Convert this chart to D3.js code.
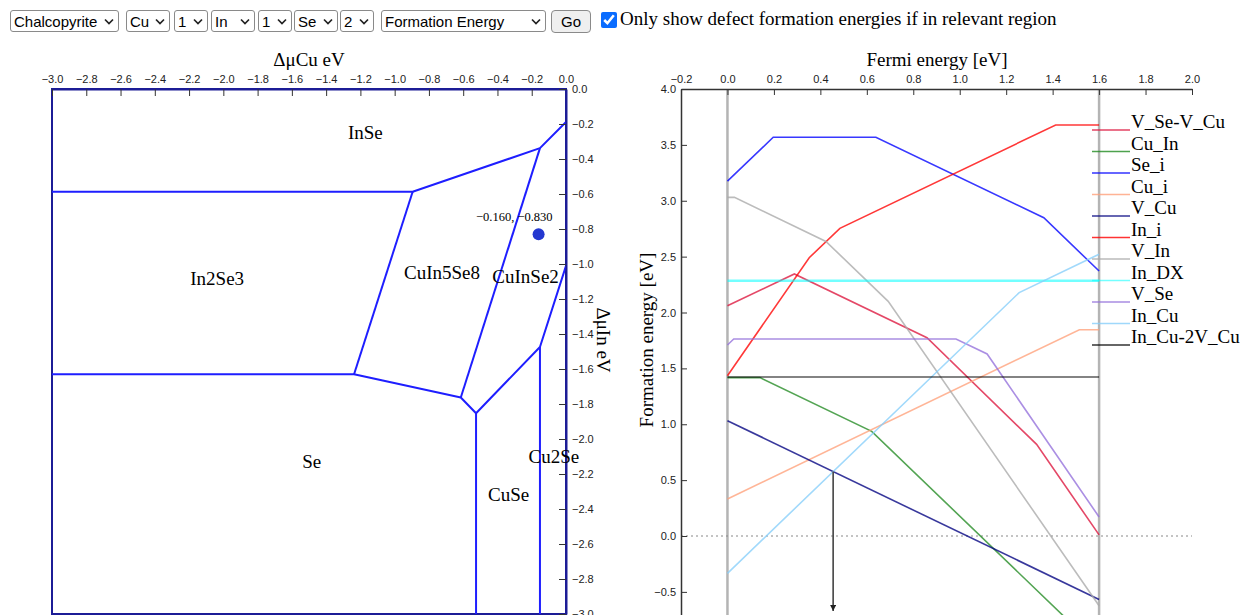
<!DOCTYPE html>
<html>
<head>
<meta charset="utf-8">
<script src="https://cdn.jsdelivr.net/npm/d3@7"></script>
<style>
  html, body { margin: 0; padding: 0; background: #fff; }
  body { width: 1241px; height: 615px; position: relative; overflow: hidden; }
  #chart { position: absolute; left: 0; top: 0; }
  .ctl { position: absolute; top: 10px; height: 22px; box-sizing: border-box;
         font: 15px Arial, "Liberation Sans", sans-serif; color: #000;
         border: 1px solid #8a8a8a; border-radius: 3px; background-color: #fff;
         -webkit-appearance: none; appearance: none; padding: 0 14px 0 3px;
         background-repeat: no-repeat; background-position: right 4px center; margin: 0; }
  #go { position: absolute; top: 10px; left: 551px; width: 40px; height: 23px; box-sizing: border-box;
        font: 15px Arial, "Liberation Sans", sans-serif; border: 1px solid #8a8a8a; border-radius: 4px;
        background: #efefef; padding: 0; margin: 0; }
  #only { position: absolute; left: 601px; top: 12px; width: 16px; height: 16px; margin: 0; accent-color: #0a6cff; }
  #onlyLabel { position: absolute; left: 620px; top: 8px; font: 19px "Liberation Serif", "Times New Roman", serif; white-space: nowrap; }
  .tick text { font-family: Arial, "Liberation Sans", sans-serif; }
</style>
</head>
<body>
<svg id="chart" width="1241" height="615"></svg>
<select class="ctl" style="left:10px;width:109px"><option>Chalcopyrite</option></select>
<select class="ctl" style="left:126px;width:44px"><option>Cu</option></select>
<select class="ctl" style="left:174px;width:34px"><option>1</option></select>
<select class="ctl" style="left:211px;width:44px"><option>In</option></select>
<select class="ctl" style="left:258px;width:34px"><option>1</option></select>
<select class="ctl" style="left:294px;width:44px"><option>Se</option></select>
<select class="ctl" style="left:340px;width:34px"><option>2</option></select>
<select class="ctl" style="left:381px;width:165px"><option>Formation Energy</option></select>
<button id="go">Go</button>
<input type="checkbox" id="only" checked>
<label id="onlyLabel" for="only">Only show defect formation energies if in relevant region</label>
<script>
// chevrons for the drop-downs
const chevron = "url(\"data:image/svg+xml;utf8," + encodeURIComponent(
  "<svg xmlns='http://www.w3.org/2000/svg' width='10' height='7'><path d='M1 1.5l4 4 4-4' fill='none' stroke='#222' stroke-width='1.7'/></svg>") + "\")";
document.querySelectorAll("select.ctl").forEach(s => s.style.backgroundImage = chevron);

// ---------- chemical potential phase diagram (Cu-In-Se) ----------
const muCuTicks = [-3.0, -2.8, -2.6, -2.4, -2.2, -2.0, -1.8, -1.6, -1.4, -1.2, -1.0, -0.8, -0.6, -0.4, -0.2, 0.0];
const muInTicks = [0.0, -0.2, -0.4, -0.6, -0.8, -1.0, -1.2, -1.4, -1.6, -1.8, -2.0, -2.2, -2.4, -2.6, -2.8, -3.0];

// phase boundaries as [ΔμCu, ΔμIn] polylines
const phaseBoundaries = [
  [[-3.0, -0.587], [-0.895, -0.587], [-0.152, -0.338], [0.0, -0.189]],
  [[-3.0, -1.630], [-1.237, -1.630], [-0.614, -1.763], [-0.525, -1.853], [-0.152, -1.474], [0.0, -1.011]],
  [[-0.895, -0.587], [-1.237, -1.630]],
  [[-0.614, -1.763], [-0.152, -0.338]],
  [[-0.525, -1.853], [-0.525, -3.0]],
  [[-0.152, -1.474], [-0.152, -3.0]]
];

const phaseNames = ["InSe", "In2Se3", "CuIn5Se8", "CuInSe2", "Se", "CuSe", "Cu2Se"];
const phaseLabelPos = [[-1.171, -0.283], [-2.036, -1.120], [-0.724, -1.086], [-0.236, -1.107],
                       [-1.484, -2.166], [-0.335, -2.353], [-0.071, -2.139]];

const selectedPoint = [-0.160, -0.830];

// ---------- defect formation energies vs Fermi level ----------
const fermiTicks = [-0.2, 0.0, 0.2, 0.4, 0.6, 0.8, 1.0, 1.2, 1.4, 1.6, 1.8, 2.0];
const energyTicks = [4.0, 3.5, 3.0, 2.5, 2.0, 1.5, 1.0, 0.5, 0.0, -0.5];
const bandGap = [0.0, 1.6];

const defectNames = ["V_Se-V_Cu", "Cu_In", "Se_i", "Cu_i", "V_Cu", "In_i", "V_In", "In_DX", "V_Se", "In_Cu", "In_Cu-2V_Cu"];
const defectColors = ["crimson", "forestgreen", "blue", "lightsalmon", "navy", "red", "darkgray", "cyan", "mediumpurple", "lightskyblue", "black"];

// [Fermi energy, formation energy] breakpoints of each defect's lowest-energy charge state
const defectLines = [
  [[0.0, 2.060], [0.288, 2.345], [0.859, 1.774], [1.331, 0.820], [1.6, 0.010]],
  [[0.0, 1.417], [0.140, 1.417], [0.621, 0.936], [1.6, -1.022]],
  [[0.0, 3.175], [0.197, 3.568], [0.639, 3.568], [1.362, 2.848], [1.6, 2.371]],
  [[0.0, 0.331], [1.515, 1.846], [1.6, 1.846]],
  [[0.0, 1.032], [1.6, -0.568]],
  [[0.0, 1.434], [0.352, 2.490], [0.484, 2.753], [1.413, 3.678], [1.6, 3.678]],
  [[0.0, 3.030], [0.030, 3.030], [0.424, 2.636], [0.692, 2.100], [1.6, -0.624]],
  [[0.0, 2.285], [1.6, 2.285]],
  [[0.0, 1.709], [0.027, 1.763], [0.984, 1.763], [1.118, 1.629], [1.6, 0.170]],
  [[0.0, -0.334], [1.256, 2.178], [1.6, 2.522]],
  [[0.0, 1.423], [1.6, 1.423]]
];

// equilibrium Fermi level and the formation energy where it is pinned
const fermiLevel = [0.455, 0.577];

const svg = d3.select("#chart");
const serif = '"Liberation Serif", "Times New Roman", serif';

// ===== left panel =====
const xMu = d3.scaleLinear().domain([-3, 0]).range([52, 566]);
const yMu = d3.scaleLinear().domain([0, -3]).range([89, 614]);

const left = svg.append("g");
left.append("rect")
  .attr("x", xMu(-3)).attr("y", yMu(0))
  .attr("width", xMu(0) - xMu(-3)).attr("height", yMu(-3) - yMu(0))
  .attr("fill", "none").attr("stroke", "#1c1c96").attr("stroke-width", 2);

const lineMu = d3.line().x(d => xMu(d[0])).y(d => yMu(d[1]));
left.selectAll("path.boundary").data(phaseBoundaries).join("path")
  .attr("class", "boundary")
  .attr("d", lineMu)
  .attr("fill", "none").attr("stroke", "#1e1eff").attr("stroke-width", 2)
  .attr("stroke-linejoin", "round");

const axMuTop = left.append("g").attr("transform", `translate(0,${yMu(0)})`)
  .call(d3.axisTop(xMu).tickValues(muCuTicks).tickFormat(d3.format(".1f"))
        .tickSizeInner(-7).tickSizeOuter(0).tickPadding(6));
const axMuRight = left.append("g").attr("transform", `translate(${xMu(0)},0)`)
  .call(d3.axisRight(yMu).tickValues(muInTicks).tickFormat(d3.format(".1f"))
        .tickSizeInner(-7).tickSizeOuter(0).tickPadding(6));
[axMuTop, axMuRight].forEach(a => {
  a.select(".domain").attr("stroke", "#1c1c96").attr("stroke-width", 2);
  a.selectAll(".tick line").attr("stroke", "#333");
  a.selectAll(".tick text").attr("font-size", 11).attr("fill", "#222");
});

left.append("text").attr("x", 309).attr("y", 66)
  .attr("text-anchor", "middle").attr("font-family", serif).attr("font-size", 19)
  .text("ΔμCu eV");
left.append("text").attr("transform", "translate(597,340) rotate(90)")
  .attr("text-anchor", "middle").attr("font-family", serif).attr("font-size", 19)
  .text("ΔμIn eV");

left.selectAll("text.phase").data(phaseNames).join("text")
  .attr("class", "phase")
  .attr("x", (d, i) => xMu(phaseLabelPos[i][0]))
  .attr("y", (d, i) => yMu(phaseLabelPos[i][1]))
  .attr("text-anchor", "middle").attr("font-family", serif).attr("font-size", 19)
  .text(d => d);

left.append("circle")
  .attr("cx", xMu(selectedPoint[0])).attr("cy", yMu(selectedPoint[1])).attr("r", 6)
  .attr("fill", "#2438d0");
left.append("text")
  .attr("x", xMu(selectedPoint[0]) + 14).attr("y", yMu(selectedPoint[1]) - 13)
  .attr("text-anchor", "end").attr("font-family", serif).attr("font-size", 12.5)
  .text(selectedPoint.map(d3.format(".3f")).join(", "));

// ===== right panel =====
const xF = d3.scaleLinear().domain([-0.2, 2.0]).range([681, 1192]);
const yF = d3.scaleLinear().domain([-1, 4]).range([647.75, 89]);

const right = svg.append("g");

// band edges
right.selectAll("line.edge").data(bandGap).join("line")
  .attr("class", "edge")
  .attr("x1", d => xF(d)).attr("x2", d => xF(d))
  .attr("y1", yF(4)).attr("y2", 615)
  .attr("stroke", "#b4b4b4").attr("stroke-width", 2.5);

// zero reference
right.append("line")
  .attr("x1", xF(-0.2)).attr("x2", xF(2.0)).attr("y1", yF(0)).attr("y2", yF(0))
  .attr("stroke", "#888").attr("stroke-width", 1).attr("stroke-dasharray", "2,3");

const clip = svg.append("defs").append("clipPath").attr("id", "plotClip");
clip.append("rect").attr("x", xF(-0.2)).attr("y", yF(4)).attr("width", xF(2) - xF(-0.2)).attr("height", yF(-1) - yF(4));

const lineF = d3.line().x(d => xF(d[0])).y(d => yF(d[1]));
right.append("g").attr("clip-path", "url(#plotClip)")
  .selectAll("path.defect").data(defectLines).join("path")
  .attr("class", "defect")
  .attr("d", lineF)
  .attr("fill", "none")
  .attr("stroke", (d, i) => defectColors[i])
  .attr("stroke-opacity", (d, i) => defectNames[i] === "In_DX" ? 0.55 : (defectNames[i] === "In_Cu-2V_Cu" ? 0.65 : 0.78))
  .attr("stroke-width", (d, i) => defectNames[i] === "In_DX" ? 2.5 : 1.6);

// legend
const legend = right.append("g");
const legendItem = legend.selectAll("g").data(defectNames).join("g")
  .attr("transform", (d, i) => `translate(1092,${130 + i * 21.5})`);
legendItem.append("line").attr("x1", 0).attr("x2", 38).attr("y1", 0).attr("y2", 0)
  .attr("stroke", (d, i) => defectColors[i])
  .attr("stroke-opacity", (d, i) => defectNames[i] === "In_DX" ? 0.55 : 0.8)
  .attr("stroke-width", 1.6);
legendItem.append("text").attr("x", 39).attr("y", -2)
  .attr("font-family", serif).attr("font-size", 19).text(d => d);

// equilibrium Fermi level arrow
const defs = svg.select("defs");
defs.append("marker").attr("id", "arrow").attr("viewBox", "0 0 10 10")
  .attr("refX", 10).attr("refY", 5).attr("markerWidth", 4).attr("markerHeight", 4)
  .attr("orient", "auto")
  .append("path").attr("d", "M0,0L10,5L0,10Z").attr("fill", "#222");
right.append("line")
  .attr("x1", xF(fermiLevel[0])).attr("x2", xF(fermiLevel[0]))
  .attr("y1", yF(fermiLevel[1])).attr("y2", 611)
  .attr("stroke", "#444").attr("stroke-width", 1.6).attr("marker-end", "url(#arrow)");

const axFTop = right.append("g").attr("transform", `translate(0,${yF(4)})`)
  .call(d3.axisTop(xF).tickValues(fermiTicks).tickFormat(d3.format(".1f"))
        .tickSizeInner(-6).tickSizeOuter(0).tickPadding(6));
const axFLeft = right.append("g").attr("transform", `translate(${xF(-0.2)},0)`)
  .call(d3.axisLeft(yF).tickValues(energyTicks).tickFormat(d3.format(".1f"))
        .tickSizeInner(-6).tickSizeOuter(0).tickPadding(5));
[axFTop, axFLeft].forEach(a => {
  a.select(".domain").attr("stroke", "#333").attr("stroke-width", 1.5);
  a.selectAll(".tick line").attr("stroke", "#333");
  a.selectAll(".tick text").attr("font-size", 11).attr("fill", "#222");
});

right.append("text").attr("x", 937).attr("y", 66)
  .attr("text-anchor", "middle").attr("font-family", serif).attr("font-size", 19)
  .text("Fermi energy [eV]");
right.append("text").attr("transform", "translate(653,340) rotate(-90)")
  .attr("text-anchor", "middle").attr("font-family", serif).attr("font-size", 19)
  .text("Formation energy [eV]");
</script>
</body>
</html>
